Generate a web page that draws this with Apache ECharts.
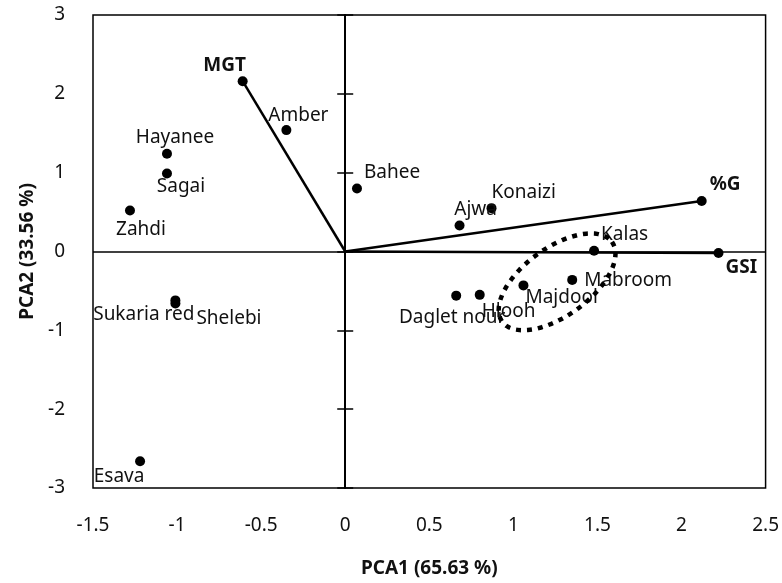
<!DOCTYPE html>
<html>
<head>
<meta charset="utf-8">
<script src="https://cdn.jsdelivr.net/npm/echarts@6/dist/echarts.min.js"></script>
<style>
  html, body { margin: 0; padding: 0; background: #fff; }
  #chart { width: 782px; height: 583px; }
</style>
</head>
<body>
<div id="chart"></div>
<script>
// cultivar scores
const cultivars = ['Amber', 'Hayanee', 'Sagai', 'Zahdi', 'Bahee', 'Ajwa', 'Konaizi', 'Kalas',
  'Mabroom', 'Majdool', 'Hlooh', 'Daglet nour', 'Sukaria red', 'Shelebi', 'Esava'];
const pc1 = [-0.35, -1.06, -1.06, -1.28, 0.07, 0.68, 0.87, 1.48, 1.35, 1.06, 0.80, 0.66, -1.01, -1.01, -1.22];
const pc2 = [1.54, 1.24, 0.99, 0.52, 0.80, 0.33, 0.55, 0.01, -0.36, -0.43, -0.55, -0.56, -0.62, -0.66, -2.66];

// variable loadings
const loadingNames = ['MGT', '%G', 'GSI'];
const loadingPC1 = [-0.61, 2.12, 2.22];
const loadingPC2 = [2.16, 0.64, -0.02];

// axis ticks
const xTicks = [-1.5, 2.5, 0.5];  // min, max, interval
const yTicks = [-3, 3, 1];

// label placement (align, offset px)
const placement = {
  'Amber': ['center', [12, -15]],
  'Hayanee': ['center', [8, -16]],
  'Sagai': ['center', [14, 13]],
  'Zahdi': ['center', [11, 19]],
  'Bahee': ['left', [7, -16]],
  'Ajwa': ['center', [16, -16]],
  'Konaizi': ['left', [0, -16]],
  'Kalas': ['left', [7, -16]],
  'Mabroom': ['left', [12, 1]],
  'Majdool': ['left', [2, 12]],
  'Hlooh': ['left', [2, 17]],
  'Daglet nour': ['center', [-4, 22]],
  'Sukaria red': ['right', [19, 14]],
  'Shelebi': ['left', [21, 15]],
  'Esava': ['center', [-21, 15]],
  'MGT': ['center', [-18, -16]],
  '%G': ['left', [8, -16]],
  'GSI': ['left', [7, 15]]
};

// dotted group ellipse (centre and semi-axis vectors in data units)
const ellipseCenter = [1.26, -0.385];
const ellipseMajor = [0.3265, 0.506];
const ellipseMinor = [0.1187, -0.348];

const FONT = 'Noto Sans';
const TEXT = '#111';

const labelFor = (name, bold) => ({
  show: true,
  formatter: '{b}',
  position: 'inside',
  align: placement[name][0],
  verticalAlign: 'middle',
  offset: placement[name][1],
  fontFamily: FONT,
  fontSize: 19,
  fontWeight: bold ? 'bold' : 'normal',
  color: TEXT
});

const chart = echarts.init(document.getElementById('chart'));

const scoreData = cultivars.map((n, i) => ({
  name: n,
  value: [pc1[i], pc2[i]],
  label: labelFor(n, false)
}));

const loadingSeries = loadingNames.map((n, i) => ({
  type: 'line',
  name: n,
  symbol: 'circle',
  symbolSize: 10,
  showSymbol: true,
  itemStyle: { color: '#000', opacity: 1 },
  lineStyle: { color: '#000', width: 2.5 },
  data: [
    { value: [0, 0], symbol: 'none', label: { show: false } },
    { name: n, value: [loadingPC1[i], loadingPC2[i]], label: labelFor(n, true) }
  ],
  z: 3,
  silent: true
}));

const ellipsePts = [];
for (let k = 0; k <= 72; k++) {
  const t = k / 72 * Math.PI * 2;
  ellipsePts.push([
    ellipseCenter[0] + Math.cos(t) * ellipseMajor[0] + Math.sin(t) * ellipseMinor[0],
    ellipseCenter[1] + Math.cos(t) * ellipseMajor[1] + Math.sin(t) * ellipseMinor[1]
  ]);
}

const valueAxisBase = {
  type: 'value',
  splitLine: { show: false },
  axisTick: { show: false },
  axisLine: { show: false, onZero: false }
};

// zero line on x = 0 with ticks crossing both sides
const zeroYAxis = (inside) => ({
  type: 'value',
  min: yTicks[0], max: yTicks[1], interval: yTicks[2],
  position: 'left',
  splitLine: { show: false },
  axisLine: { show: true, onZero: true, onZeroAxisIndex: 0, lineStyle: { color: '#000', width: 2 } },
  axisTick: { show: true, inside: inside, length: 8, lineStyle: { color: '#000', width: 1.5 } },
  axisLabel: { show: false }
});

chart.setOption({
  animation: false,
  grid: {
    left: 93, top: 15, right: 15, bottom: 94,
    show: true, borderColor: '#000', borderWidth: 1.5, backgroundColor: 'transparent'
  },
  xAxis: [{
    ...valueAxisBase,
    min: xTicks[0], max: xTicks[1], interval: xTicks[2],
    name: 'PCA1 (65.63 %)',
    nameLocation: 'middle',
    nameGap: 71,
    nameTextStyle: { fontFamily: FONT, fontSize: 19, fontWeight: 'bold', color: TEXT },
    axisLabel: { fontFamily: FONT, fontSize: 19, color: TEXT, margin: 28 }
  }],
  yAxis: [{
    ...valueAxisBase,
    min: yTicks[0], max: yTicks[1], interval: yTicks[2],
    position: 'left',
    name: 'PCA2 (33.56 %)',
    nameLocation: 'middle',
    nameGap: 56,
    nameTextStyle: { fontFamily: FONT, fontSize: 19, fontWeight: 'bold', color: TEXT },
    axisLabel: { fontFamily: FONT, fontSize: 19, color: TEXT, margin: 28 }
  }, zeroYAxis(true), zeroYAxis(false)],
  series: [
    {
      type: 'scatter',
      name: 'cultivars',
      symbol: 'circle',
      symbolSize: 10,
      itemStyle: { color: '#000', opacity: 1 },
      data: scoreData,
      markLine: {
        silent: true,
        symbol: 'none',
        label: { show: false },
        lineStyle: { color: '#000', width: 1.5, type: 'solid' },
        data: [{ yAxis: 0 }]
      },
      z: 4
    },
    ...loadingSeries,
    {
      type: 'line',
      name: 'group',
      showSymbol: false,
      symbol: 'none',
      lineStyle: { color: '#000', width: 4.5, type: [5, 6], cap: 'butt' },
      data: ellipsePts,
      z: 5,
      silent: true
    }
  ]
});
</script>
</body>
</html>
